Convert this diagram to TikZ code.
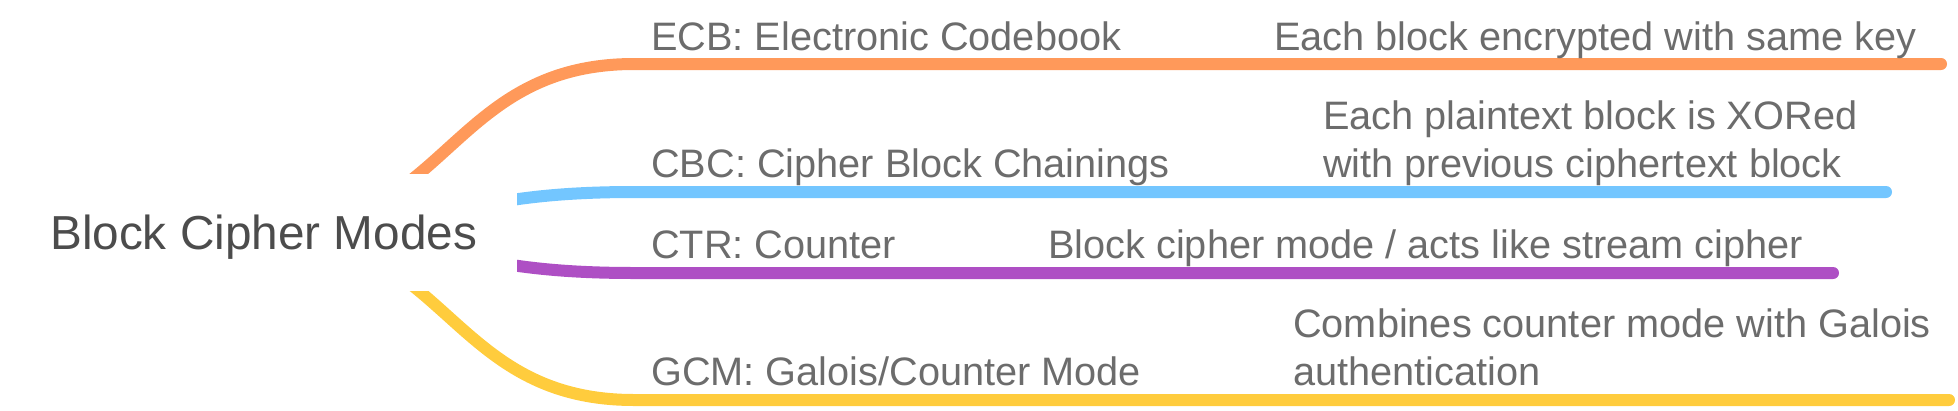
\documentclass[tikz,border=0pt]{standalone}
\usepackage{fontspec}
\setmainfont{Liberation Sans}
\definecolor{cOrange}{RGB}{255,153,90}
\definecolor{cBlue}{RGB}{115,198,255}
\definecolor{cPurple}{RGB}{174,79,196}
\definecolor{cYellow}{RGB}{255,204,61}
\definecolor{txtgray}{RGB}{108,108,108}
\definecolor{rootgray}{RGB}{76,76,76}
\begin{document}
\begin{tikzpicture}[x=1pt,y=-1pt,
  branch/.style={line width=12pt, line cap=round},
  lbl/.style={anchor=base west, inner sep=0pt, text=txtgray,
    font=\fontsize{39.7}{48}\selectfont},
  rootlbl/.style={anchor=base west, inner sep=0pt, text=rootgray,
    font=\fontsize{47.7}{56}\selectfont}]
\useasboundingbox (0,0) rectangle (1958,410);
% branch points
\coordinate (src) at (262,232.5);
\coordinate (jA) at (634,64);   \coordinate (eA) at (1941,64);
\coordinate (jB) at (634,192);  \coordinate (eB) at (1886,192);
\coordinate (jC) at (634,273);  \coordinate (eC) at (1833,273);
\coordinate (jD) at (634,400);  \coordinate (eD) at (1949,400);
% connectors
\draw[branch,cOrange] (src) .. controls (448,232.5) and (448,64) .. (jA) -- (eA);
\draw[branch,cBlue]   (src) .. controls (448,232.5) and (448,192) .. (jB) -- (eB);
\draw[branch,cPurple] (src) .. controls (448,232.5) and (448,273) .. (jC) -- (eC);
\draw[branch,cYellow] (src) .. controls (448,232.5) and (448,400) .. (jD) -- (eD);
% root box
\fill[white] (0,174.3) rectangle (517,291);
\node[rootlbl] (root) at (50,249) {Block Cipher Modes};
% children
\node[lbl] (ecb) at (651,50) {ECB: Electronic Codebook};
\node[lbl] (ecbd) at (1274,50) {Each block encrypted with same key};
\node[lbl] (cbc) at (651,177) {CBC: Cipher Block Chainings};
\node[lbl,align=left] (cbcd) at (1323,177) {Each plaintext block is XORed\\with previous ciphertext block};
\node[lbl] (ctr) at (651,258) {CTR: Counter};
\node[lbl] (ctrd) at (1048,258) {Block cipher mode / acts like stream cipher};
\node[lbl] (gcm) at (651,385) {GCM: Galois/Counter Mode};
\node[lbl,align=left] (gcmd) at (1293,385) {Combines counter mode with Galois\\authentication};
\end{tikzpicture}
\end{document}
